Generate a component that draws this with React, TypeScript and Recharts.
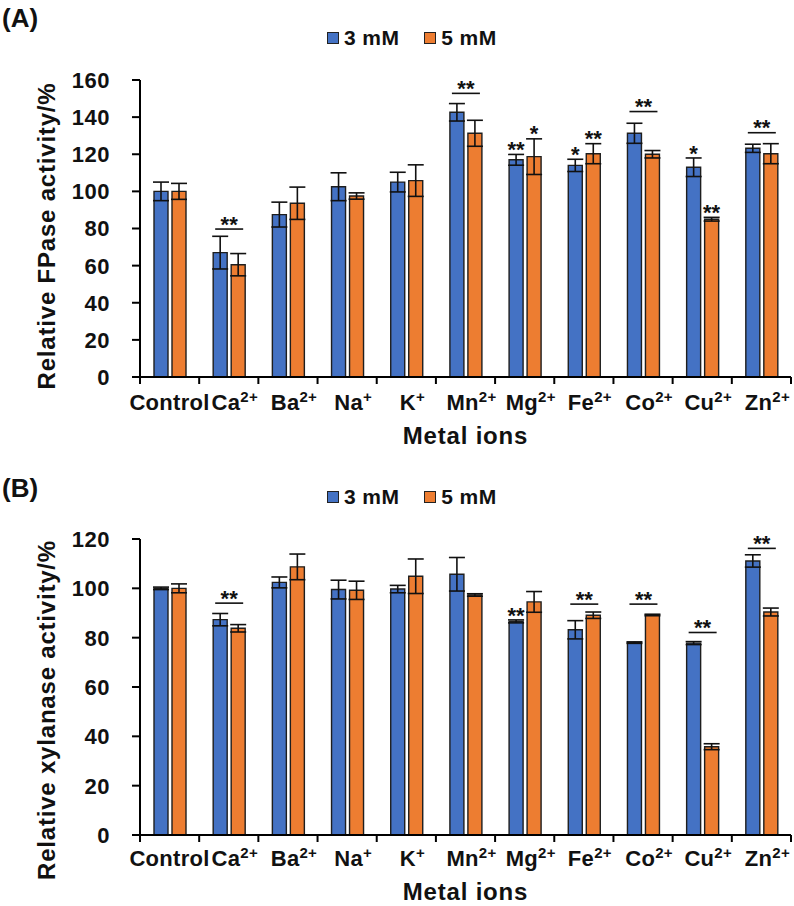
import { BarChart, Bar, XAxis, YAxis, ErrorBar, Legend } from 'recharts';

const categories = ['Control', 'Ca', 'Ba', 'Na', 'K', 'Mn', 'Mg', 'Fe', 'Co', 'Cu', 'Zn'];
const charges = ['', '2+', '2+', '+', '+', '2+', '2+', '2+', '2+', '2+', '2+'];

// (A) relative FPase activity
const fpase3 = [100, 67, 87.5, 102.5, 105, 142.6, 117, 114, 131.3, 113, 123.2];
const fpase3Err = [5, 8.8, 6.7, 7.5, 5.3, 4.7, 2.9, 3.3, 5.4, 5, 2.2];
const fpase5 = [100, 60.5, 93.6, 97.5, 105.8, 131.3, 118.7, 120.3, 120, 85, 120.3];
const fpase5Err = [4.3, 6, 8.7, 1.7, 8.5, 7, 9.6, 5.4, 2, 1, 5.4];
const fpaseStars3 = ['', '', '', '', '', '', '**', '*', '', '*', ''];
const fpaseStars5 = ['', '', '', '', '', '', '*', '**', '', '**', ''];
const fpasePair = [null, 79.7, null, null, null, 152.8, null, null, 143, null, 131.6];
const fpaseTicks = [0, 20, 40, 60, 80, 100, 120, 140, 160];

// (B) relative xylanase activity
const xyl3 = [100, 87.3, 102.4, 99.5, 99.7, 105.7, 86.6, 83.2, 78, 77.8, 111.1];
const xyl3Err = [0.5, 2.5, 2.2, 3.8, 1.5, 6.8, 0.6, 3.7, 0.3, 0.6, 2.5];
const xyl5 = [100, 83.8, 108.7, 99.2, 104.9, 97.3, 94.5, 89.1, 89.2, 35.8, 90.4];
const xyl5Err = [1.8, 1.5, 5.2, 3.7, 7, 0.5, 4.2, 1.3, 0.3, 1.2, 1.6];
const xylStars3 = ['', '', '', '', '', '', '**', '', '', '', ''];
const xylStars5 = ['', '', '', '', '', '', '', '', '', '', ''];
const xylPair = [null, 94, null, null, null, null, null, 93.6, 93.6, 82.1, 116.2];
const xylTicks = [0, 20, 40, 60, 80, 100, 120];

const BLUE = '#4472C4';
const ORANGE = '#ED7D31';
const FONT = "'Liberation Sans', Arial, sans-serif";
const W = 794;
const AXIS_LEFT = 140;
const MARGIN_RIGHT = 3;
const STEP = (W - AXIS_LEFT - MARGIN_RIGHT) / categories.length;
const BAR = 14;
const GAP = 4;

// star glyph sits high in the em box, so the baseline goes a bit below the target
const starBaseline = (topY: number) => topY - 10 + 12.6;

function makeLabel(values: number[], errs: number[], stars: string[], pair?: (number | null)[]) {
  return (p: any) => {
    const { x, y, width, height, index } = p;
    const v = values[index];
    const k = height / v;
    const out: any[] = [];
    if (stars[index]) {
      const errTop = y - errs[index] * k;
      out.push(
        <text key="s" x={x + width / 2} y={starBaseline(errTop)} textAnchor="middle"
          fontFamily={FONT} fontWeight="bold" fontSize={22} fill="#111">
          {stars[index]}
        </text>
      );
    }
    if (pair && pair[index] != null) {
      const base = y + height;
      const ly = base - (pair[index] as number) * k;
      const cx = x + width + GAP / 2;
      out.push(
        <g key="p">
          <line x1={cx - 14} x2={cx + 14} y1={ly} y2={ly} stroke="#111" strokeWidth={1.6} />
          <text x={cx} y={starBaseline(ly)} textAnchor="middle"
            fontFamily={FONT} fontWeight="bold" fontSize={22} fill="#111">**</text>
        </g>
      );
    }
    return <g>{out}</g>;
  };
}

function XTick(props: any) {
  const { x, y, index, tickDy } = props;
  const i = index;
  const dx = charges[i] ? 6 : 0;
  return (
    <g>
      <line x1={x - STEP / 2} x2={x - STEP / 2} y1={y} y2={y + 7} stroke="#000" strokeWidth={2} />
      {i === categories.length - 1 && (
        <line x1={x + STEP / 2} x2={x + STEP / 2} y1={y} y2={y + 7} stroke="#000" strokeWidth={2} />
      )}
      <text x={x + dx} y={y + tickDy} textAnchor="middle" fontFamily={FONT} fontWeight="bold"
        fontSize={22} letterSpacing={0.3} fill="#111">
        <tspan>{categories[i]}</tspan>
        {charges[i] && <tspan dy={-8} fontSize={15}>{charges[i]}</tspan>}
      </text>
    </g>
  );
}

function YTick(props: any) {
  const { x, y, payload } = props;
  return (
    <text x={x - 22} y={y} dy="0.36em" textAnchor="end" fontFamily={FONT} fontWeight="bold"
      fontSize={22} letterSpacing={0.5} fill="#111">
      {payload.value}
    </text>
  );
}

function LegendContent() {
  const item = (color: string, label: string, ml: number) => (
    <div style={{ display: 'flex', alignItems: 'center', marginLeft: ml }}>
      <div style={{ width: 12, height: 12, background: color, border: '1.5px solid #222', boxSizing: 'border-box', marginRight: 5 }} />
      <span style={{ fontFamily: FONT, fontWeight: 'bold', fontSize: 21, letterSpacing: 0.4, color: '#111' }}>{label}</span>
    </div>
  );
  return (
    <div style={{ display: 'flex', alignItems: 'center' }}>
      {item(BLUE, '3 mM', 0)}
      {item(ORANGE, '5 mM', 25)}
    </div>
  );
}

type PanelProps = {
  top: number;
  height: number;
  marginTop: number;
  marginBottom: number;
  yMax: number;
  ticks: number[];
  yLabel: string;
  yLabelCy: number;
  tag: string;
  tagTop: number;
  legendTop: number;
  tickDy: number;
  titleDy: number;
  v3: number[];
  e3: number[];
  v5: number[];
  e5: number[];
  s3: string[];
  s5: string[];
  pair: (number | null)[];
};

function Panel(p: PanelProps) {
  const data = categories.map((c, i) => ({ name: c, v3: p.v3[i], e3: p.e3[i], v5: p.v5[i], e5: p.e5[i] }));
  return (
    <div style={{ position: 'absolute', left: 0, top: p.top, width: W, height: p.height }}>
      <div style={{ position: 'absolute', left: 2, top: p.tagTop, fontFamily: FONT, fontWeight: 'bold', fontSize: 26, color: '#111', lineHeight: '30px' }}>
        {p.tag}
      </div>
      <BarChart width={W} height={p.height} data={data} barSize={BAR} barGap={GAP}
        margin={{ top: p.marginTop, right: MARGIN_RIGHT, bottom: p.marginBottom, left: 0 }}>
        <Legend layout="horizontal" verticalAlign="middle" align="center" content={<LegendContent />}
          wrapperStyle={{ top: p.legendTop, left: 327, width: 'auto', height: 'auto' }} />
        <XAxis dataKey="name" height={70} interval={0} tickLine={false} tickSize={0} tickMargin={0}
          axisLine={{ stroke: '#000', strokeWidth: 2 }}
          tick={<XTick tickDy={p.tickDy} />}
          label={{
            content: (lp: any) => {
              const vb = lp.viewBox;
              return (
                <text x={vb.x + vb.width / 2} y={vb.y + p.titleDy} textAnchor="middle" fontFamily={FONT}
                  fontWeight="bold" fontSize={24} letterSpacing={0.8} fill="#111">Metal ions</text>
              );
            },
          }} />
        <YAxis width={AXIS_LEFT} domain={[0, p.yMax]} ticks={p.ticks} interval={0} tickSize={8} tickMargin={0}
          axisLine={{ stroke: '#000', strokeWidth: 2 }} tickLine={{ stroke: '#000', strokeWidth: 2 }}
          tick={<YTick />}
          label={{
            content: () => (
              <text x={55} y={p.yLabelCy} transform={`rotate(-90, 55, ${p.yLabelCy})`} textAnchor="middle"
                fontFamily={FONT} fontWeight="bold" fontSize={24} letterSpacing={0.8} fill="#111">{p.yLabel}</text>
            ),
          }} />
        <Bar dataKey="v3" fill={BLUE} stroke="#1e1e1e" strokeWidth={1.4} isAnimationActive={false}
          label={makeLabel(p.v3, p.e3, p.s3, p.pair)}>
          <ErrorBar dataKey="e3" width={8} stroke="#111" strokeWidth={1.6} direction="y" />
        </Bar>
        <Bar dataKey="v5" fill={ORANGE} stroke="#1e1e1e" strokeWidth={1.4} isAnimationActive={false}
          label={makeLabel(p.v5, p.e5, p.s5)}>
          <ErrorBar dataKey="e5" width={8} stroke="#111" strokeWidth={1.6} direction="y" />
        </Bar>
      </BarChart>
    </div>
  );
}

export default function App() {
  return (
    <div style={{ position: 'absolute', left: 0, top: 0, width: W, height: 906, background: '#fff', overflow: 'hidden' }}>
      <Panel top={0} height={450} marginTop={80} marginBottom={3} yMax={160} ticks={fpaseTicks}
        yLabel="Relative FPase activity/%" yLabelCy={236} tag="(A)" tagTop={3} legendTop={26}
        tickDy={33} titleDy={67}
        v3={fpase3} e3={fpase3Err} v5={fpase5} e5={fpase5Err} s3={fpaseStars3} s5={fpaseStars5} pair={fpasePair} />
      <Panel top={450} height={456} marginTop={89} marginBottom={1} yMax={120} ticks={xylTicks}
        yLabel="Relative xylanase activity/%" yLabelCy={260} tag="(B)" tagTop={23} legendTop={35}
        tickDy={31} titleDy={65}
        v3={xyl3} e3={xyl3Err} v5={xyl5} e5={xyl5Err} s3={xylStars3} s5={xylStars5} pair={xylPair} />
    </div>
  );
}
